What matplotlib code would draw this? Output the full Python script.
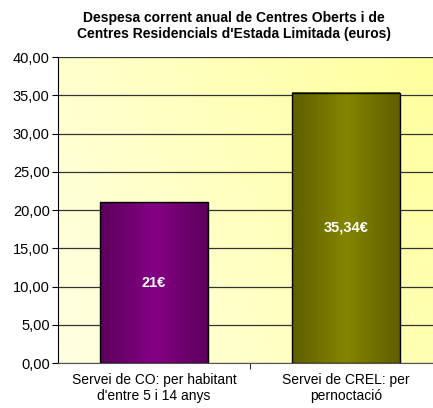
import numpy as np
import matplotlib
matplotlib.use("Agg")
import matplotlib.pyplot as plt
from matplotlib.colors import LinearSegmentedColormap

plt.rcParams['font.family'] = ['Liberation Sans', 'DejaVu Sans']

categories = ["Servei de CO: per habitant\nd'entre 5 i 14 anys",
              "Servei de CREL: per\npernoctació"]
values = [21.0, 35.34]
value_labels = ["21€", "35,34€"]
bar_colors = [("#5c005c", "#840084"), ("#5f5f00", "#858500")]
title = "Despesa corrent anual de Centres Oberts i de\nCentres Residencials d'Estada Limitada (euros)"

fig = plt.figure(figsize=(4.33, 4.08), dpi=100)
ax = fig.add_axes([0.134, 0.110, 0.887, 0.750])

x = np.arange(len(values))
ax.set_xlim(-0.5, len(values) - 0.5)
ax.set_ylim(0, 40)

# background gradient (light cream to pale yellow at top right)
gx, gy = np.meshgrid(np.linspace(0, 1, 200), np.linspace(0, 1, 200))
bg = gx * 0.7 + gy * 0.3
bg_cmap = LinearSegmentedColormap.from_list("bg", ["#ffffe2", "#ffff9c"])
ax.imshow(bg, cmap=bg_cmap, extent=[-0.5, len(values) - 0.5, 0, 40],
          origin="lower", aspect="auto", zorder=0)

ax.yaxis.grid(True, color="#333333", linewidth=0.9, zorder=1)
ax.set_axisbelow(True)

bars = ax.bar(x, values, width=0.56, color="none", edgecolor="black",
              linewidth=1.0, zorder=3)

for b, (c_edge, c_mid), lab in zip(bars, bar_colors, value_labels):
    cmap = LinearSegmentedColormap.from_list("b", [c_edge, c_mid, c_edge])
    grad = np.linspace(0, 1, 100).reshape(1, -1)
    ax.imshow(grad, cmap=cmap, extent=[b.get_x(), b.get_x() + b.get_width(), 0, b.get_height()],
              aspect="auto", zorder=2)
    ax.text(b.get_x() + b.get_width() / 2, b.get_height() / 2, lab,
            color="white", fontsize=10.5, fontweight="bold", ha="center", va="center", zorder=4)

ax.set_yticks(np.arange(0, 41, 5))
ax.set_yticklabels([f"{v:.2f}".replace(".", ",") for v in np.arange(0, 41, 5)], fontsize=10.5)
ax.set_xticks(x)
ax.set_xticklabels(categories, fontsize=10)
ax.tick_params(axis="x", length=0, pad=7)
ax.set_xticks([0.5], minor=True)
ax.tick_params(axis="x", which="minor", length=4, direction="out")
ax.tick_params(axis="y", length=4, direction="out", pad=2)

for s in ["top", "right"]:
    ax.spines[s].set_visible(False)
ax.spines["left"].set_color("black")
ax.spines["bottom"].set_color("#555555")

fig.text(0.541, 0.936, title, ha="center", va="center",
         fontsize=10, fontweight="bold", linespacing=1.25)

fig.savefig("out.png", dpi=100)
